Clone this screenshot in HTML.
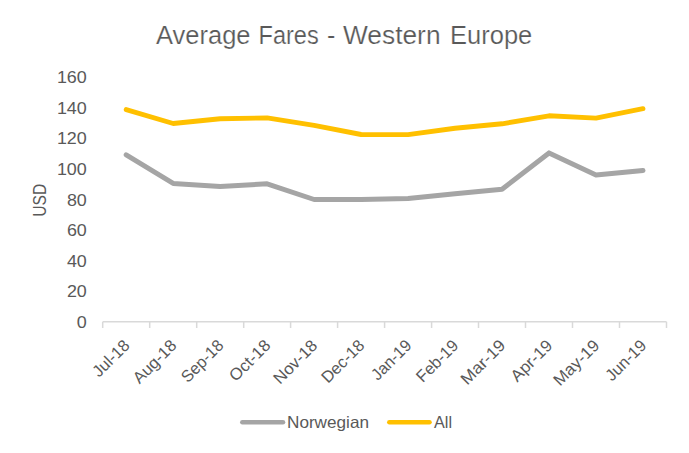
<!DOCTYPE html>
<html><head><meta charset="utf-8"><title>Average Fares - Western Europe</title>
<style>
html,body{margin:0;padding:0;background:#fff;width:689px;height:453px;overflow:hidden}
svg{display:block}
text{font-family:"Liberation Sans",Arial,sans-serif;fill:#595959}
.t{stroke:#fff;stroke-width:0.2px}
</style></head><body>
<svg width="689" height="453" viewBox="0 0 689 453">
<rect width="689" height="453" fill="#fff"/>
<text class="t" x="156.0" y="43.7" font-size="25" textLength="94.52" lengthAdjust="spacingAndGlyphs">Average</text>
<text class="t" x="258.5" y="43.7" font-size="25" textLength="60.21" lengthAdjust="spacingAndGlyphs">Fares</text>
<text class="t" x="327.0" y="43.7" font-size="25" textLength="8.33" lengthAdjust="spacingAndGlyphs">-</text>
<text class="t" x="343.0" y="43.7" font-size="25" textLength="97.53" lengthAdjust="spacingAndGlyphs">Western</text>
<text class="t" x="450.0" y="43.7" font-size="25" textLength="82.28" lengthAdjust="spacingAndGlyphs">Europe</text>
<text x="86.8" y="328.0" font-size="16.5" text-anchor="end" textLength="10.0" lengthAdjust="spacingAndGlyphs">0</text>
<text x="86.8" y="297.4" font-size="16.5" text-anchor="end" textLength="19.9" lengthAdjust="spacingAndGlyphs">20</text>
<text x="86.8" y="266.8" font-size="16.5" text-anchor="end" textLength="19.9" lengthAdjust="spacingAndGlyphs">40</text>
<text x="86.8" y="236.1" font-size="16.5" text-anchor="end" textLength="19.9" lengthAdjust="spacingAndGlyphs">60</text>
<text x="86.8" y="205.5" font-size="16.5" text-anchor="end" textLength="19.9" lengthAdjust="spacingAndGlyphs">80</text>
<text x="86.8" y="174.9" font-size="16.5" text-anchor="end" textLength="29.9" lengthAdjust="spacingAndGlyphs">100</text>
<text x="86.8" y="144.2" font-size="16.5" text-anchor="end" textLength="29.9" lengthAdjust="spacingAndGlyphs">120</text>
<text x="86.8" y="113.6" font-size="16.5" text-anchor="end" textLength="29.9" lengthAdjust="spacingAndGlyphs">140</text>
<text x="86.8" y="83.0" font-size="16.5" text-anchor="end" textLength="29.9" lengthAdjust="spacingAndGlyphs">160</text>
<text transform="translate(46,200.3) rotate(-90)" font-size="18" text-anchor="middle" textLength="33" lengthAdjust="spacingAndGlyphs">USD</text>
<path d="M102.7 321.8H666.5" stroke="#D9D9D9" stroke-width="1.5" fill="none"/>
<path d="M102.7 321.8V328M149.7 321.8V328M196.7 321.8V328M243.7 321.8V328M290.6 321.8V328M337.6 321.8V328M384.6 321.8V328M431.6 321.8V328M478.5 321.8V328M525.5 321.8V328M572.5 321.8V328M619.5 321.8V328M666.5 321.8V328" stroke="#D9D9D9" stroke-width="1.5" fill="none"/>
<text transform="translate(130.6,346.5) rotate(-45)" font-size="16.5" text-anchor="end" textLength="44.6" lengthAdjust="spacingAndGlyphs">Jul-18</text>
<text transform="translate(177.6,346.5) rotate(-45)" font-size="16.5" text-anchor="end" textLength="53.9" lengthAdjust="spacingAndGlyphs">Aug-18</text>
<text transform="translate(224.6,346.5) rotate(-45)" font-size="16.5" text-anchor="end" textLength="52.2" lengthAdjust="spacingAndGlyphs">Sep-18</text>
<text transform="translate(271.5,346.5) rotate(-45)" font-size="16.5" text-anchor="end" textLength="50.5" lengthAdjust="spacingAndGlyphs">Oct-18</text>
<text transform="translate(318.5,346.5) rotate(-45)" font-size="16.5" text-anchor="end" textLength="54.4" lengthAdjust="spacingAndGlyphs">Nov-18</text>
<text transform="translate(365.5,346.5) rotate(-45)" font-size="16.5" text-anchor="end" textLength="53.2" lengthAdjust="spacingAndGlyphs">Dec-18</text>
<text transform="translate(412.5,346.5) rotate(-45)" font-size="16.5" text-anchor="end" textLength="49.2" lengthAdjust="spacingAndGlyphs">Jan-19</text>
<text transform="translate(459.5,346.5) rotate(-45)" font-size="16.5" text-anchor="end" textLength="51.9" lengthAdjust="spacingAndGlyphs">Feb-19</text>
<text transform="translate(506.4,346.5) rotate(-45)" font-size="16.5" text-anchor="end" textLength="55.4" lengthAdjust="spacingAndGlyphs">Mar-19</text>
<text transform="translate(553.4,346.5) rotate(-45)" font-size="16.5" text-anchor="end" textLength="51.1" lengthAdjust="spacingAndGlyphs">Apr-19</text>
<text transform="translate(600.4,346.5) rotate(-45)" font-size="16.5" text-anchor="end" textLength="57.1" lengthAdjust="spacingAndGlyphs">May-19</text>
<text transform="translate(647.4,346.5) rotate(-45)" font-size="16.5" text-anchor="end" textLength="50.1" lengthAdjust="spacingAndGlyphs">Jun-19</text>
<polyline points="126.20,154.90 173.18,183.40 220.16,186.40 267.14,183.80 314.12,199.50 361.10,199.50 408.08,198.40 455.06,193.70 502.04,189.30 549.02,152.90 596.00,175.10 642.98,170.60" fill="none" stroke="#A5A5A5" stroke-width="5" stroke-linejoin="round" stroke-linecap="round"/>
<polyline points="126.20,109.60 173.18,123.50 220.16,118.70 267.14,117.90 314.12,125.40 361.10,134.50 408.08,134.60 455.06,128.30 502.04,123.80 549.02,115.80 596.00,118.10 642.98,108.70" fill="none" stroke="#FFC000" stroke-width="4.9" stroke-linejoin="round" stroke-linecap="round"/>
<path d="M242.3 422.3H283" stroke="#A5A5A5" stroke-width="4.5" stroke-linecap="round"/>
<text x="287.0" y="427.5" font-size="16.5" textLength="81.95" lengthAdjust="spacingAndGlyphs">Norwegian</text>
<path d="M389.3 422.3H429.5" stroke="#FFC000" stroke-width="4.5" stroke-linecap="round"/>
<text x="434.0" y="427.5" font-size="16.5" textLength="17.98" lengthAdjust="spacingAndGlyphs">All</text>
</svg>
</body></html>
